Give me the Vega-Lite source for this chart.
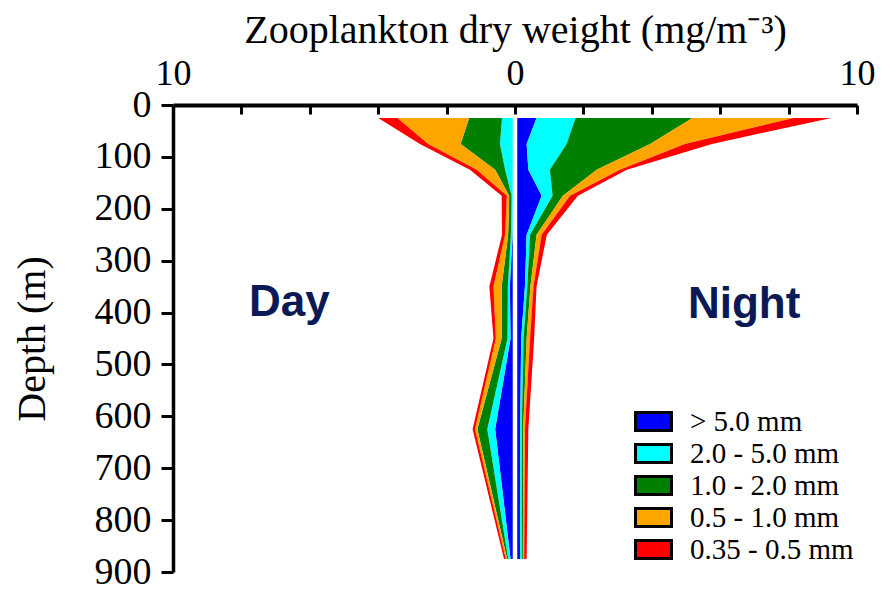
{
  "$schema": "https://vega.github.io/schema/vega-lite/v6.json",
  "width": 684,
  "height": 467,
  "autosize": {"type": "none"},
  "padding": {"left": 173, "top": 105, "right": 38, "bottom": 41},
  "background": "white",
  "config": {"view": {"stroke": null}, "font": "Liberation Serif"},
  "datasets": {
    "plankton": [
      {"period": "Day", "depth": 25, "size": "> 5.0 mm", "rank": 1, "weight": -0.05},
      {"period": "Day", "depth": 25, "size": "2.0 - 5.0 mm", "rank": 2, "weight": -0.33},
      {"period": "Day", "depth": 25, "size": "1.0 - 2.0 mm", "rank": 3, "weight": -0.96},
      {"period": "Day", "depth": 25, "size": "0.5 - 1.0 mm", "rank": 4, "weight": -2.10},
      {"period": "Day", "depth": 25, "size": "0.35 - 0.5 mm", "rank": 5, "weight": -0.56},
      {"period": "Day", "depth": 75, "size": "> 5.0 mm", "rank": 1, "weight": -0.05},
      {"period": "Day", "depth": 75, "size": "2.0 - 5.0 mm", "rank": 2, "weight": -0.39},
      {"period": "Day", "depth": 75, "size": "1.0 - 2.0 mm", "rank": 3, "weight": -1.15},
      {"period": "Day", "depth": 75, "size": "0.5 - 1.0 mm", "rank": 4, "weight": -0.95},
      {"period": "Day", "depth": 75, "size": "0.35 - 0.5 mm", "rank": 5, "weight": -0.24},
      {"period": "Day", "depth": 125, "size": "> 5.0 mm", "rank": 1, "weight": -0.06},
      {"period": "Day", "depth": 125, "size": "2.0 - 5.0 mm", "rank": 2, "weight": -0.23},
      {"period": "Day", "depth": 125, "size": "1.0 - 2.0 mm", "rank": 3, "weight": -0.29},
      {"period": "Day", "depth": 125, "size": "0.5 - 1.0 mm", "rank": 4, "weight": -0.54},
      {"period": "Day", "depth": 125, "size": "0.35 - 0.5 mm", "rank": 5, "weight": -0.20},
      {"period": "Day", "depth": 175, "size": "> 5.0 mm", "rank": 1, "weight": -0.06},
      {"period": "Day", "depth": 175, "size": "2.0 - 5.0 mm", "rank": 2, "weight": -0.04},
      {"period": "Day", "depth": 175, "size": "1.0 - 2.0 mm", "rank": 3, "weight": -0.07},
      {"period": "Day", "depth": 175, "size": "0.5 - 1.0 mm", "rank": 4, "weight": -0.07},
      {"period": "Day", "depth": 175, "size": "0.35 - 0.5 mm", "rank": 5, "weight": -0.15},
      {"period": "Day", "depth": 250, "size": "> 5.0 mm", "rank": 1, "weight": -0.07},
      {"period": "Day", "depth": 250, "size": "2.0 - 5.0 mm", "rank": 2, "weight": -0.05},
      {"period": "Day", "depth": 250, "size": "1.0 - 2.0 mm", "rank": 3, "weight": -0.08},
      {"period": "Day", "depth": 250, "size": "0.5 - 1.0 mm", "rank": 4, "weight": -0.09},
      {"period": "Day", "depth": 250, "size": "0.35 - 0.5 mm", "rank": 5, "weight": -0.09},
      {"period": "Day", "depth": 350, "size": "> 5.0 mm", "rank": 1, "weight": -0.15},
      {"period": "Day", "depth": 350, "size": "2.0 - 5.0 mm", "rank": 2, "weight": -0.06},
      {"period": "Day", "depth": 350, "size": "1.0 - 2.0 mm", "rank": 3, "weight": -0.18},
      {"period": "Day", "depth": 350, "size": "0.5 - 1.0 mm", "rank": 4, "weight": -0.24},
      {"period": "Day", "depth": 350, "size": "0.35 - 0.5 mm", "rank": 5, "weight": -0.12},
      {"period": "Day", "depth": 450, "size": "> 5.0 mm", "rank": 1, "weight": -0.13},
      {"period": "Day", "depth": 450, "size": "2.0 - 5.0 mm", "rank": 2, "weight": -0.09},
      {"period": "Day", "depth": 450, "size": "1.0 - 2.0 mm", "rank": 3, "weight": -0.17},
      {"period": "Day", "depth": 450, "size": "0.5 - 1.0 mm", "rank": 4, "weight": -0.17},
      {"period": "Day", "depth": 450, "size": "0.35 - 0.5 mm", "rank": 5, "weight": -0.07},
      {"period": "Day", "depth": 625, "size": "> 5.0 mm", "rank": 1, "weight": -0.58},
      {"period": "Day", "depth": 625, "size": "2.0 - 5.0 mm", "rank": 2, "weight": -0.23},
      {"period": "Day", "depth": 625, "size": "1.0 - 2.0 mm", "rank": 3, "weight": -0.29},
      {"period": "Day", "depth": 625, "size": "0.5 - 1.0 mm", "rank": 4, "weight": -0.07},
      {"period": "Day", "depth": 625, "size": "0.35 - 0.5 mm", "rank": 5, "weight": -0.07},
      {"period": "Day", "depth": 875, "size": "> 5.0 mm", "rank": 1, "weight": -0.13},
      {"period": "Day", "depth": 875, "size": "2.0 - 5.0 mm", "rank": 2, "weight": -0.07},
      {"period": "Day", "depth": 875, "size": "1.0 - 2.0 mm", "rank": 3, "weight": -0.03},
      {"period": "Day", "depth": 875, "size": "0.5 - 1.0 mm", "rank": 4, "weight": -0.04},
      {"period": "Day", "depth": 875, "size": "0.35 - 0.5 mm", "rank": 5, "weight": -0.05},
      {"period": "Night", "depth": 25, "size": "> 5.0 mm", "rank": 1, "weight": 0.63},
      {"period": "Night", "depth": 25, "size": "2.0 - 5.0 mm", "rank": 2, "weight": 1.14},
      {"period": "Night", "depth": 25, "size": "1.0 - 2.0 mm", "rank": 3, "weight": 3.42},
      {"period": "Night", "depth": 25, "size": "0.5 - 1.0 mm", "rank": 4, "weight": 2.96},
      {"period": "Night", "depth": 25, "size": "0.35 - 0.5 mm", "rank": 5, "weight": 1.10},
      {"period": "Night", "depth": 75, "size": "> 5.0 mm", "rank": 1, "weight": 0.34},
      {"period": "Night", "depth": 75, "size": "2.0 - 5.0 mm", "rank": 2, "weight": 1.17},
      {"period": "Night", "depth": 75, "size": "1.0 - 2.0 mm", "rank": 3, "weight": 2.44},
      {"period": "Night", "depth": 75, "size": "0.5 - 1.0 mm", "rank": 4, "weight": 1.02},
      {"period": "Night", "depth": 75, "size": "0.35 - 0.5 mm", "rank": 5, "weight": 0.79},
      {"period": "Night", "depth": 125, "size": "> 5.0 mm", "rank": 1, "weight": 0.39},
      {"period": "Night", "depth": 125, "size": "2.0 - 5.0 mm", "rank": 2, "weight": 0.63},
      {"period": "Night", "depth": 125, "size": "1.0 - 2.0 mm", "rank": 3, "weight": 1.37},
      {"period": "Night", "depth": 125, "size": "0.5 - 1.0 mm", "rank": 4, "weight": 0.68},
      {"period": "Night", "depth": 125, "size": "0.35 - 0.5 mm", "rank": 5, "weight": 0.20},
      {"period": "Night", "depth": 175, "size": "> 5.0 mm", "rank": 1, "weight": 0.78},
      {"period": "Night", "depth": 175, "size": "2.0 - 5.0 mm", "rank": 2, "weight": 0.32},
      {"period": "Night", "depth": 175, "size": "1.0 - 2.0 mm", "rank": 3, "weight": 0.30},
      {"period": "Night", "depth": 175, "size": "0.5 - 1.0 mm", "rank": 4, "weight": 0.21},
      {"period": "Night", "depth": 175, "size": "0.35 - 0.5 mm", "rank": 5, "weight": 0.23},
      {"period": "Night", "depth": 250, "size": "> 5.0 mm", "rank": 1, "weight": 0.34},
      {"period": "Night", "depth": 250, "size": "2.0 - 5.0 mm", "rank": 2, "weight": 0.10},
      {"period": "Night", "depth": 250, "size": "1.0 - 2.0 mm", "rank": 3, "weight": 0.19},
      {"period": "Night", "depth": 250, "size": "0.5 - 1.0 mm", "rank": 4, "weight": 0.15},
      {"period": "Night", "depth": 250, "size": "0.35 - 0.5 mm", "rank": 5, "weight": 0.15},
      {"period": "Night", "depth": 350, "size": "> 5.0 mm", "rank": 1, "weight": 0.29},
      {"period": "Night", "depth": 350, "size": "2.0 - 5.0 mm", "rank": 2, "weight": 0.07},
      {"period": "Night", "depth": 350, "size": "1.0 - 2.0 mm", "rank": 3, "weight": 0.09},
      {"period": "Night", "depth": 350, "size": "0.5 - 1.0 mm", "rank": 4, "weight": 0.09},
      {"period": "Night", "depth": 350, "size": "0.35 - 0.5 mm", "rank": 5, "weight": 0.09},
      {"period": "Night", "depth": 450, "size": "> 5.0 mm", "rank": 1, "weight": 0.18},
      {"period": "Night", "depth": 450, "size": "2.0 - 5.0 mm", "rank": 2, "weight": 0.07},
      {"period": "Night", "depth": 450, "size": "1.0 - 2.0 mm", "rank": 3, "weight": 0.09},
      {"period": "Night", "depth": 450, "size": "0.5 - 1.0 mm", "rank": 4, "weight": 0.10},
      {"period": "Night", "depth": 450, "size": "0.35 - 0.5 mm", "rank": 5, "weight": 0.12},
      {"period": "Night", "depth": 625, "size": "> 5.0 mm", "rank": 1, "weight": 0.15},
      {"period": "Night", "depth": 625, "size": "2.0 - 5.0 mm", "rank": 2, "weight": 0.05},
      {"period": "Night", "depth": 625, "size": "1.0 - 2.0 mm", "rank": 3, "weight": 0.04},
      {"period": "Night", "depth": 625, "size": "0.5 - 1.0 mm", "rank": 4, "weight": 0.05},
      {"period": "Night", "depth": 625, "size": "0.35 - 0.5 mm", "rank": 5, "weight": 0.10},
      {"period": "Night", "depth": 875, "size": "> 5.0 mm", "rank": 1, "weight": 0.15},
      {"period": "Night", "depth": 875, "size": "2.0 - 5.0 mm", "rank": 2, "weight": 0.05},
      {"period": "Night", "depth": 875, "size": "1.0 - 2.0 mm", "rank": 3, "weight": 0.03},
      {"period": "Night", "depth": 875, "size": "0.5 - 1.0 mm", "rank": 4, "weight": 0.04},
      {"period": "Night", "depth": 875, "size": "0.35 - 0.5 mm", "rank": 5, "weight": 0.07}
    ],
    "labels": [
      {"label": "Day", "x": -6.6, "depth": 407},
      {"label": "Night", "x": 6.7, "depth": 411}
    ]
  },
  "layer": [
    {
      "data": {"name": "plankton"},
      "mark": {"type": "area", "orient": "horizontal", "interpolate": "linear"},
      "encoding": {
        "y": {
          "field": "depth", "type": "quantitative",
          "scale": {"domain": [0, 900], "reverse": true, "nice": false, "zero": false},
          "axis": {
            "values": [0, 100, 200, 300, 400, 500, 600, 700, 800, 900],
            "title": "Depth (m)",
            "titleFont": "Liberation Serif", "titleFontSize": 40, "titleFontWeight": "normal", "titleColor": "black",
            "titlePadding": 42,
            "labelFont": "Liberation Serif", "labelFontSize": 38, "labelColor": "black",
            "labelPadding": 10, "labelFlush": false, "labelOverlap": false, "labelBound": false,
            "tickSize": 12, "tickWidth": 3, "tickColor": "black",
            "domainWidth": 3.5, "domainColor": "black", "grid": false
          }
        },
        "x": {
          "field": "weight", "type": "quantitative", "stack": "zero",
          "scale": {"domain": [-10, 10], "nice": false},
          "axis": {
            "orient": "top",
            "values": [-10, -9, -8, -7, -6, -5, -4, -3, -2, -1, 0, 1, 2, 3, 4, 5, 6, 7, 8, 9, 10],
            "labelExpr": "abs(datum.value) % 5 == 0 ? format(abs(datum.value), 'd') : ''",
            "title": "Zooplankton dry weight (mg/m⁻³)",
            "titleFont": "Liberation Serif", "titleFontSize": 40, "titleFontWeight": "normal", "titleColor": "black",
            "titlePadding": 5,
            "labelFont": "Liberation Serif", "labelFontSize": 36, "labelColor": "black",
            "labelPadding": 22, "labelFlush": false, "labelOverlap": false, "labelBound": false,
            "tickSize": -9, "tickWidth": 3, "tickColor": "black",
            "domainWidth": 4, "domainColor": "black", "grid": false, "zindex": 1
          }
        },
        "color": {
          "field": "size", "type": "nominal",
          "scale": {
            "domain": ["> 5.0 mm", "2.0 - 5.0 mm", "1.0 - 2.0 mm", "0.5 - 1.0 mm", "0.35 - 0.5 mm"],
            "range": ["#0000FF", "#00FFFF", "#008000", "#FFA500", "#FF0000"]
          },
          "legend": {
            "orient": "none", "legendX": 466, "legendY": 302, "title": null, "padding": 0,
            "symbolType": "M-2,-1H2V1H-2Z", "symbolSize": 324,
            "symbolStrokeColor": "black", "symbolStrokeWidth": 3, "symbolOpacity": 1,
            "labelFont": "Liberation Serif", "labelFontSize": 29, "labelColor": "black",
            "labelOffset": 22, "labelLimit": 400, "rowPadding": 1
          }
        },
        "order": {"field": "rank", "type": "quantitative"},
        "detail": {"field": "period"}
      }
    },
    {
      "data": {"values": [{"edge": "zero"}]},
      "mark": {"type": "rule", "color": "white", "strokeWidth": 4.5},
      "encoding": {"x": {"datum": 0}, "y": {"datum": 25}, "y2": {"datum": 875}}
    },
    {
      "data": {"name": "labels"},
      "mark": {"type": "text", "font": "Liberation Sans", "fontWeight": "bold", "fontSize": 44, "color": "#0b1a55", "baseline": "alphabetic", "align": "center"},
      "encoding": {
        "x": {"field": "x", "type": "quantitative"},
        "y": {"field": "depth", "type": "quantitative"},
        "text": {"field": "label"}
      }
    }
  ]
}
